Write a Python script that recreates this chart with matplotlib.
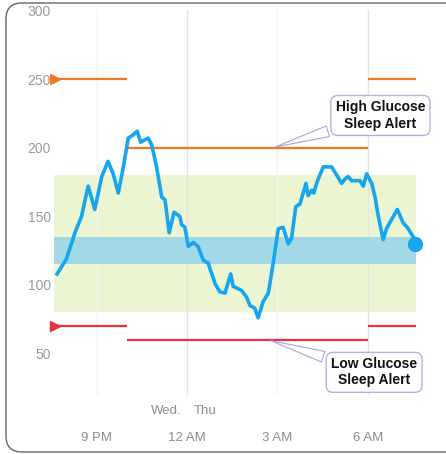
import matplotlib
matplotlib.use("Agg")
import matplotlib.pyplot as plt
from matplotlib.patches import FancyBboxPatch

# glucose trace, hours after midnight of Wed (24 = 12 AM Thu)
times = [19.69, 20.00, 20.28, 20.50, 20.72, 20.94, 21.17, 21.38, 21.55, 21.72,
         21.88, 22.05, 22.19, 22.35, 22.46, 22.71, 22.83, 22.99, 23.16, 23.27,
         23.41, 23.57, 23.76, 23.82, 23.93, 24.04, 24.21, 24.37, 24.54, 24.70,
         24.93, 25.09, 25.26, 25.45, 25.53, 25.81, 25.98, 26.09, 26.25, 26.36,
         26.53, 26.70, 26.86, 27.03, 27.19, 27.36, 27.47, 27.61, 27.75, 27.95,
         28.02, 28.14, 28.21, 28.30, 28.52, 28.80, 28.97, 29.13, 29.24, 29.35,
         29.46, 29.74, 29.85, 29.96, 30.13, 30.24, 30.35, 30.51, 30.62, 30.98,
         31.18, 31.31, 31.51, 31.56]
glucose = [108, 119, 138, 150, 172, 155, 179, 190, 181, 167,
           185, 207, 209, 212, 204, 207, 202, 186, 164, 162,
           138, 153, 150, 144, 142, 128, 131, 128, 118, 116,
           101, 95, 94, 108, 99, 96, 91, 85, 83, 76,
           88, 94, 116, 141, 142, 130, 134, 157, 159, 174,
           165, 169, 167, 174, 186, 186, 180, 174, 177, 179,
           176, 176, 172, 181, 174, 164, 150, 133, 141, 155,
           145, 142, 135, 130]

target_range = (80, 180)
inner_range = (115, 135)
high_alert = 250
high_sleep_alert = 200
low_alert = 70
low_sleep_alert = 60
sleep_start, sleep_end = 22, 30
x_start, x_end = 19.57, 31.61

x_ticks = [21, 24, 27, 30]
x_labels = ["9 PM", "12 AM", "3 AM", "6 AM"]
y_ticks = [50, 100, 150, 200, 250, 300]

orange = "#f27a1e"
red = "#e8323f"
blue = "#16a6f0"

plt.rcParams['font.family'] = ['Liberation Sans', 'DejaVu Sans']

fig = plt.figure(figsize=(4.46, 4.54), dpi=100)
ax = fig.add_axes([0.12, 0.1306, 0.8134, 0.8463])
ax.set_xlim(x_start, x_end)
ax.set_ylim(20, 300)

ax.axhspan(*target_range, color="#ecf5d2", lw=0, zorder=0)
ax.axhspan(*inner_range, color="#a3d9e6", lw=0, zorder=1)

# faint grid, midnight and sleep end a little stronger
for t in x_ticks:
    c = "#e4e4e4" if t in (24, 30) else "#f4f4f4"
    ax.axvline(t, color=c, lw=1, zorder=0.5)

# alert lines
ax.hlines([high_alert, high_alert], [x_start, sleep_end], [sleep_start, x_end], color=orange, lw=1.6, zorder=2)
ax.hlines(high_sleep_alert, sleep_start, sleep_end, color=orange, lw=1.6, zorder=2)
ax.hlines([low_alert, low_alert], [x_start, sleep_end], [sleep_start, x_end], color=red, lw=1.6, zorder=2)
ax.hlines(low_sleep_alert, sleep_start, sleep_end, color=red, lw=1.6, zorder=2)
ax.plot([x_start + 0.05], [high_alert], marker=">", ms=7, color=orange, clip_on=False, zorder=3)
ax.plot([x_start + 0.05], [low_alert], marker=">", ms=7, color=red, clip_on=False, zorder=3)

ax.plot(times, glucose, color=blue, lw=2.6, solid_joinstyle="round", zorder=4)
ax.plot([times[-1]], [glucose[-1]], "o", ms=10, color=blue, zorder=5, clip_on=False)

box = dict(boxstyle="round,pad=0.35,rounding_size=0.5", fc="white", ec="#b4b0e2", lw=1)
wedge = dict(arrowstyle="wedge,tail_width=0.8", fc="white", ec="#a8a4e0", lw=0.8)
ax.annotate("High Glucose\nSleep Alert", xy=(26.85, high_sleep_alert), xytext=(30.42, 223.5),
            ha="center", va="center", fontsize=10, fontweight="bold", color="#111111",
            bbox=box, arrowprops=wedge, annotation_clip=False, zorder=6)
ax.annotate("Low Glucose\nSleep Alert", xy=(26.69, low_sleep_alert), xytext=(30.21, 36.3),
            ha="center", va="center", fontsize=10, fontweight="bold", color="#111111",
            bbox=box, arrowprops=wedge, annotation_clip=False, zorder=6)

ax.annotate("Wed.", xy=(24, 8), xytext=(-4, 0), textcoords="offset points",
            ha="right", va="center", fontsize=9.5, color="#8c8c8c", annotation_clip=False)
ax.annotate("Thu", xy=(24, 8), xytext=(5, 0), textcoords="offset points",
            ha="left", va="center", fontsize=9.5, color="#8c8c8c", annotation_clip=False)

ax.set_xticks(x_ticks)
ax.set_xticklabels(x_labels)
ax.set_yticks(y_ticks)
ax.tick_params(axis="x", length=0, pad=27, labelsize=9.5, labelcolor="#8c8c8c")
ax.tick_params(axis="y", length=0, pad=2, labelsize=10, labelcolor="#9a9a9a")
for s in ax.spines.values():
    s.set_visible(False)

# card border (pixel coordinates)
card = FancyBboxPatch((6, 2), 480, 449, boxstyle="round,pad=0,rounding_size=16",
                      fc="none", ec="#666666", lw=1, transform=None)
fig.patches.append(card)

fig.savefig("out.png", dpi=100)
